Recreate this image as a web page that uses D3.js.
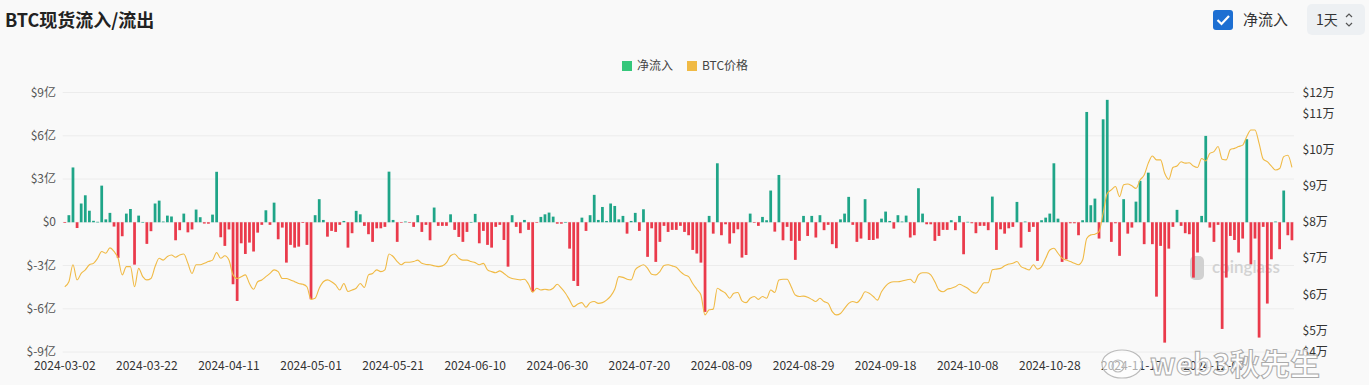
<!DOCTYPE html>
<html><head><meta charset="utf-8">
<script src="https://cdn.jsdelivr.net/npm/d3@7"></script>
<style>
html,body{margin:0;padding:0;background:#f9f9f9;}
svg{display:block;font-family:"Noto Sans CJK SC","Noto Sans",sans-serif;}
</style></head><body>
<svg id="chart" width="1369" height="385"></svg>
<script>
// ---------- data ----------
const startDate = "2024-03-02";
const dayCount = 300;
// net flow, unit: 亿 USD (1e8)
const netFlow = [
-0.05,0.49,3.8,-0.4,1.3,1.87,0.8,0.1,0.03,2.54,
0.2,0.65,-0.3,-2.47,-0.97,0.6,0.92,-2.94,0.46,0.02,
-1.5,-0.62,1.3,1.5,0.05,0.46,0.4,-1.25,-0.55,0.6,
-0.7,-0.5,0.88,0.35,-0.09,-0.1,0.53,3.5,-1.04,-1.64,
-0.5,-4.3,-5.46,-1.46,-2.2,-1.41,-2.03,-0.72,-0.18,0.83,
-0.18,1.36,-1.18,-0.37,-2.8,-1.57,-1.76,-1.69,-0.05,-1.57,
-5.34,0.49,1.6,0.16,-1.0,-0.6,-0.67,-0.18,0.09,-1.76,
-0.76,0.79,0.55,-0.25,-0.83,-1.36,-0.42,-0.42,-0.32,3.51,
0.16,-1.36,-0.03,0.05,-0.03,-0.32,0.49,-0.67,-0.18,-1.25,
1.02,-0.25,-0.25,-0.25,0.55,-0.53,-1.02,-1.36,-0.67,0.02,
0.58,-1.46,-0.6,-1.57,-1.76,-0.32,-0.18,-1.23,-3.08,0.49,
-0.32,-0.76,0.16,-0.53,-4.83,-0.03,0.37,0.55,0.67,0.39,
-0.1,-0.1,0.02,-1.83,-4.07,-4.42,0.32,-0.6,0.49,1.9,
0.16,1.06,0.09,1.3,1.13,0.2,0.44,-0.79,0.09,0.65,
-0.6,0.9,-2.4,-0.42,-2.75,-1.36,-0.25,-0.67,-0.53,-0.53,
-0.25,-0.67,-0.9,-1.92,-2.17,-2.8,-6.22,0.44,-0.79,4.09,
-0.9,-0.14,-1.48,-0.76,-0.49,-2.45,-2.27,0.6,-0.02,-0.25,
0.37,0.14,2.2,-0.65,3.28,-1.25,-0.32,-1.29,-2.61,-1.29,
0.44,-0.95,0.44,-1.06,0.49,-0.55,-0.18,-1.52,-1.8,0.2,
0.6,1.76,-0.18,-1.36,-1.13,1.6,-1.23,-1.23,-1.13,0.25,
0.74,0.09,-0.44,0.49,0.05,0.46,-1.06,-0.9,2.36,0.6,
-0.14,-0.14,-1.29,-0.95,-0.53,-0.53,0.14,-0.55,0.44,-2.22,
0.03,-0.07,-0.76,-0.25,-0.25,-0.55,1.78,-1.92,-0.49,-0.79,
-0.42,-0.32,1.41,-1.76,0.05,-0.67,-0.32,-2.68,0.14,0.32,
0.6,4.09,0.25,-2.75,-2.57,-0.07,-0.07,-0.9,0.14,7.65,
1.18,1.64,-1.13,7.14,8.49,-1.36,-0.07,-2.33,1.6,-0.79,
-0.37,1.43,2.87,-1.52,3.44,-1.52,-5.16,-1.64,-8.35,-1.83,
-0.32,0.86,-0.25,-0.76,-0.83,-3.84,-2.1,0.44,5.99,-0.37,
-1.36,-0.18,-7.4,-3.84,-0.95,-1.23,-2.1,-1.13,5.76,-2.91,
-1.13,-8.0,-0.32,-5.64,-2.57,0.05,-1.87,2.2,-0.9,-1.25
];
// BTC price, USD
const btcPrice = [
62100,63500,68200,64000,65800,66800,68200,68600,70000,71900,
71400,72900,71900,70000,65400,67700,67700,62100,67200,64900,
64000,64400,67700,70000,69500,70500,70900,70300,70900,71200,
68600,65800,68200,68200,68600,69100,69500,71600,70000,70700,
69500,65400,64400,64900,65400,63000,61400,63500,64000,64900,
65800,66800,66300,64400,64400,64000,63500,63000,62800,62100,
58600,58900,61700,63500,64000,63500,62600,61200,63000,60800,
61200,61700,63000,61900,65400,65800,66800,66300,66800,71200,
70500,69100,68200,68900,68900,69100,69500,68600,68300,68200,
67900,67700,67900,68800,70700,71200,70000,69500,69500,69100,
68800,68200,68600,66800,66300,66000,66500,65800,64900,64400,
64200,64000,64200,62800,60600,61700,61200,61400,61200,61700,
62800,61700,60300,58400,56600,57300,57700,56400,57700,58000,
57500,57700,58400,59500,61400,64900,64700,64200,64000,66800,
67700,68200,67200,65600,65400,66300,68000,68200,67900,67500,
66300,65400,64900,63000,61400,59800,54300,55700,55900,61700,
61000,60300,58900,60300,60500,58200,57700,58900,59400,58600,
59400,58900,61200,60500,64000,64200,64200,62100,59800,59400,
59500,59200,58600,58000,58900,58000,57500,55200,54300,54700,
56100,57500,58000,57700,58900,60700,60300,59400,58400,60700,
62300,63200,63500,63500,63700,64000,64200,63200,65400,66000,
66000,65400,63500,61200,60700,61400,61700,62100,62800,62300,
61700,60700,60300,61700,63200,63200,66800,67000,67200,67900,
68400,68600,69100,67700,67200,66800,68200,67000,67700,70000,
72300,72800,71400,70000,69500,69100,68600,68200,69500,75500,
76500,76700,77400,82500,88000,89000,89900,87100,90400,90600,
90100,89400,91700,93100,96400,98400,97300,97300,93600,91900,
95200,95600,96800,96400,96500,95600,95200,97700,97000,99100,
99600,101000,97500,97300,100200,100500,101000,101400,103800,105600,
105600,101900,97500,96800,95600,94500,94900,98200,98600,95200
];
const leftTicks = [-9,-6,-3,0,3,6,9];
const rightTicks = [44000,50000,60000,70000,80000,90000,100000,110000,116000];
const xLabelEvery = 20;
const seriesNames = ["净流入","BTC价格"];

// ---------- setup ----------
const W = 1369, H = 385;
const plot = {left:62.7, right:1294, top:92.5, bottom:352};
const colors = {up:"#1fa588", down:"#ea3a4b", line:"#f0ba45", legendUp:"#35c77b", legendLine:"#f0ba45",
  text:"#333", axis:"#555", grid:"#ececec"};

const parse = d3.timeParse("%Y-%m-%d");
const fmt = d3.timeFormat("%Y-%m-%d");
const dates = d3.range(dayCount).map(i => fmt(d3.timeDay.offset(parse(startDate), i)));

const svg = d3.select("#chart");
svg.append("rect").attr("width",W).attr("height",H).attr("fill","#f9f9f9");

const x = d3.scaleBand().domain(dates).range([plot.left, plot.right]).paddingInner(0.33).paddingOuter(0.17);
const yL = d3.scaleLinear().domain([-9,9]).range([plot.bottom, plot.top]);
const yR = d3.scaleLinear().domain([44000,116000]).range([plot.bottom, plot.top]);

// grid
svg.append("g").selectAll("line").data(leftTicks).join("line")
  .attr("x1",plot.left).attr("x2",plot.right)
  .attr("y1",d=>yL(d)).attr("y2",d=>yL(d))
  .attr("stroke",colors.grid).attr("stroke-width",1);

// watermark coinglass
const wm = svg.append("g").attr("opacity",0.9);
wm.append("text").attr("x",1212).attr("y",273).attr("font-size",17).attr("font-weight",600)
  .attr("fill","#cfcfcf").attr("font-family","Lato, 'Noto Sans', sans-serif").text("coinglass");
wm.append("rect").attr("x",1190).attr("y",256).attr("width",14).attr("height",24).attr("rx",5).attr("fill","#cdcdcd");

// bars
svg.append("g").selectAll("rect").data(netFlow).join("rect")
  .attr("x",(d,i)=>x(dates[i]))
  .attr("width",x.bandwidth())
  .attr("y",d=>d>=0?yL(d):yL(0))
  .attr("height",d=>Math.max(0.6,Math.abs(yL(d)-yL(0))))
  .attr("fill",d=>d>=0?colors.up:colors.down);

// line
const line = d3.line()
  .x((d,i)=>x(dates[i])+x.bandwidth()/2)
  .y(d=>yR(d))
  .curve(d3.curveMonotoneX);
svg.append("path").datum(btcPrice).attr("d",line)
  .attr("fill","none").attr("stroke",colors.line).attr("stroke-width",1.1);

// left axis labels
const fmtL = v => v===0 ? "$0" : `$${v}亿`;
svg.append("g").selectAll("text").data(leftTicks).join("text")
  .attr("x",56).attr("y",d=>yL(d)).attr("dy","0.35em").attr("text-anchor","end")
  .attr("font-size",12).attr("fill",colors.axis).text(fmtL);

// right axis labels
const fmtR = v => `$${Math.round(v/10000)}万`;
svg.append("g").selectAll("text").data(rightTicks).join("text")
  .attr("x",1302.5).attr("y",d=>yR(d)).attr("dy","0.35em").attr("text-anchor","start")
  .attr("font-size",12).attr("fill",colors.text).text(fmtR);

// x axis labels
const xTicks = dates.filter((d,i)=>i%xLabelEvery===0);
svg.append("g").selectAll("text").data(xTicks).join("text")
  .attr("x",d=>x(d)+x.bandwidth()/2).attr("y",370).attr("text-anchor","middle")
  .attr("font-size",12).attr("fill",colors.text).text(d=>d);

// title
svg.append("text").attr("x",5).attr("y",27).attr("font-size",18).attr("font-weight",700)
  .attr("fill","#222").text("BTC现货流入/流出");

// legend
const lg = svg.append("g");
const legendItems = [{name:seriesNames[0],color:colors.legendUp,x:622},{name:seriesNames[1],color:colors.legendLine,x:687}];
legendItems.forEach(it=>{
  lg.append("rect").attr("x",it.x).attr("y",61).attr("width",10).attr("height",10).attr("fill",it.color);
  lg.append("text").attr("x",it.x+15).attr("y",66).attr("dy","0.35em").attr("font-size",12).attr("fill","#444").text(it.name);
});

// controls
const ctl = svg.append("g");
ctl.append("rect").attr("x",1213).attr("y",10).attr("width",20).attr("height",20).attr("rx",3).attr("fill","#1d6fd2");
ctl.append("path").attr("d","M1217.5 20 l4 4 l7.5 -8").attr("fill","none").attr("stroke","#fff").attr("stroke-width",2.2);
ctl.append("text").attr("x",1243).attr("y",20).attr("dy","0.35em").attr("font-size",15).attr("fill","#333").text("净流入");
ctl.append("rect").attr("x",1307).attr("y",4).attr("width",58).attr("height",31).attr("rx",5).attr("fill","#edf0f3");
ctl.append("text").attr("x",1316).attr("y",20).attr("dy","0.35em").attr("font-size",14).attr("fill","#333").text("1天");
ctl.append("path").attr("d","M1346 17 l3 -3 l3 3 M1346 23 l3 3 l3 -3").attr("fill","none").attr("stroke","#555").attr("stroke-width",1.2);

// weibo watermark
const wb = svg.append("g");
wb.append("ellipse").attr("cx",1122).attr("cy",364).attr("rx",20).attr("ry",14)
  .attr("fill","#ffffff").attr("fill-opacity",0.6).attr("stroke","#bbb").attr("stroke-width",1.2);
wb.append("circle").attr("cx",1118).attr("cy",366).attr("r",6)
  .attr("fill","none").attr("stroke","#bbb").attr("stroke-width",1.2);
wb.append("text").attr("x",1150).attr("y",375).attr("font-size",30).attr("font-weight",700)
  .attr("fill","#ffffff").attr("fill-opacity",0.85).attr("stroke","#aaa").attr("stroke-width",1)
  .attr("font-family","'Noto Sans CJK SC',sans-serif").text("web3秋先生");
</script>
</body></html>
